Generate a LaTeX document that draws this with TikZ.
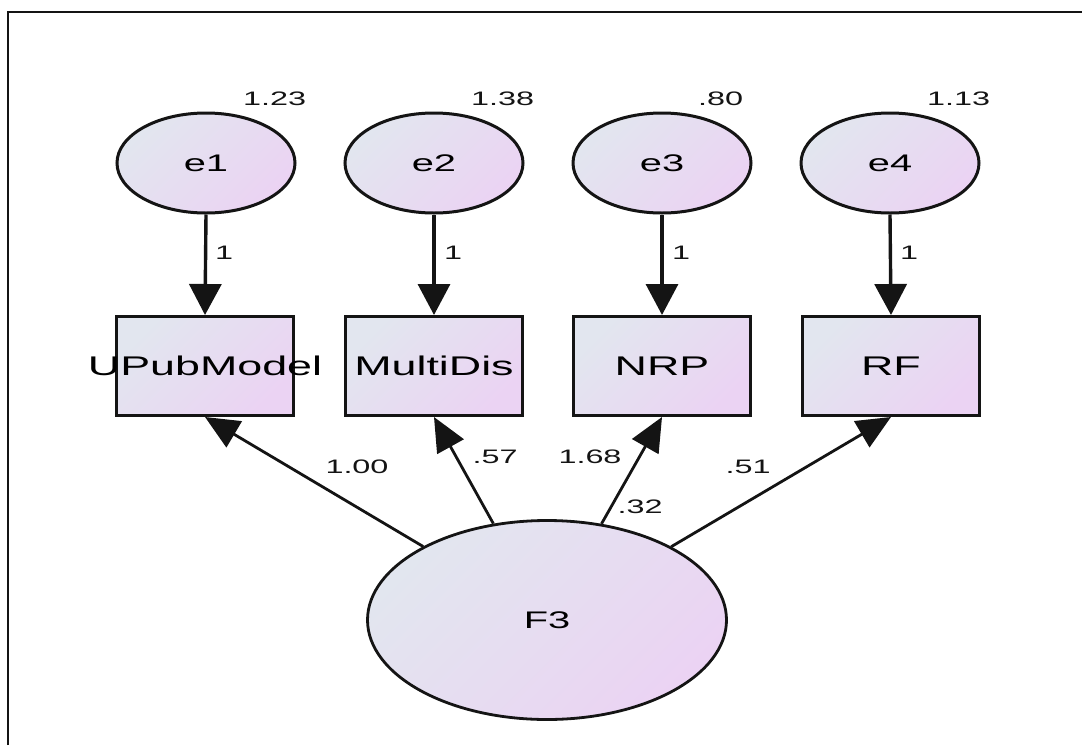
\documentclass[tikz,border=0pt]{standalone}
\usepackage{fontspec}
\setmainfont{Liberation Sans}
\usetikzlibrary{arrows.meta,shapes.geometric}
\definecolor{shadeA}{RGB}{226,230,239}
\definecolor{shadeB}{RGB}{235,211,243}
\definecolor{inkc}{RGB}{20,20,20}
% text is set wide; a zero-width box lets long names run past their frame
\newcommand\wide[1]{\scalebox{1.66}[1]{#1}}
\newcommand\overrun[1]{\makebox[0pt]{\wide{#1}}}
\newcommand\numfont{\fontsize{19.5}{22}\selectfont}
\newcommand\boxfont{\fontsize{27}{30}\selectfont}
\newcommand\varfont{\fontsize{24}{28}\selectfont}
\begin{document}
\begin{tikzpicture}[x=1pt,y=-1pt,
  filled/.style={draw=inkc,top color=shadeA,bottom color=shadeB,shading angle=45},
  errnode/.style={filled,ellipse,line width=3pt,minimum width=178pt,minimum height=100pt,inner sep=0pt,font=\varfont},
  latnode/.style={filled,ellipse,line width=2.8pt,minimum width=359pt,minimum height=199pt,inner sep=0pt,font=\varfont},
  obsbox/.style={filled,rectangle,line width=3pt,minimum width=177pt,minimum height=99pt,inner sep=0pt,font=\boxfont},
  varrow/.style={draw=inkc,line width=3.4pt,-{Triangle[length=31pt,width=32pt]}},
  darrow/.style={draw=inkc,line width=2.8pt,-{Triangle[length=34pt,width=30pt]}},
  num/.style={inner sep=0pt,font=\numfont,text=inkc}]
\useasboundingbox (0,0) rectangle (1082,745);
% outer frame: left and top edges only
\draw[line width=2.2pt,inkc] (8,745) -- (8,12) -- (1082,12);

% error terms
\node[errnode] (e1) at (206,163) {\wide{e1}};
\node[errnode] (e2) at (434,163) {\wide{e2}};
\node[errnode] (e3) at (662,163) {\wide{e3}};
\node[errnode] (e4) at (890,163) {\wide{e4}};

% observed indicators
\node[obsbox] (b1) at (205,366) {\overrun{UPubModel}};
\node[obsbox] (b2) at (434,366) {\overrun{MultiDis}};
\node[obsbox] (b3) at (662,366) {\overrun{NRP}};
\node[obsbox] (b4) at (891,366) {\overrun{RF}};

% latent factor
\node[latnode] (F3) at (547,620) {\wide{F3}};

% error paths
\draw[varrow] (e1.south) -- (b1.north);
\draw[varrow] (e2.south) -- (b2.north);
\draw[varrow] (e3.south) -- (b3.north);
\draw[varrow] (e4.south) -- (b4.north);

% loadings
\draw[darrow] (F3) -- (b1.south);
\draw[darrow] (F3) -- (b2.south);
\draw[darrow] (F3) -- (b3.south);
\draw[darrow] (F3) -- (b4.south);

% variances
\node[num,anchor=west] (v1) at (243,99) {\wide{1.23}};
\node[num,anchor=west] (v2) at (471,99) {\wide{1.38}};
\node[num,anchor=west] (v3) at (698,99) {\wide{.80}};
\node[num,anchor=west] (v4) at (927,99) {\wide{1.13}};
\node[num] (v5) at (640,507) {\wide{.32}};

% fixed error weights
\node[num] (w1) at (224,253) {\wide{1}};
\node[num] (w2) at (453,253) {\wide{1}};
\node[num] (w3) at (681,253) {\wide{1}};
\node[num] (w4) at (909,253) {\wide{1}};

% factor loadings
\node[num] (l1) at (357,467) {\wide{1.00}};
\node[num] (l2) at (495,457) {\wide{.57}};
\node[num] (l3) at (590,457) {\wide{1.68}};
\node[num] (l4) at (748,467) {\wide{.51}};
\end{tikzpicture}
\end{document}
